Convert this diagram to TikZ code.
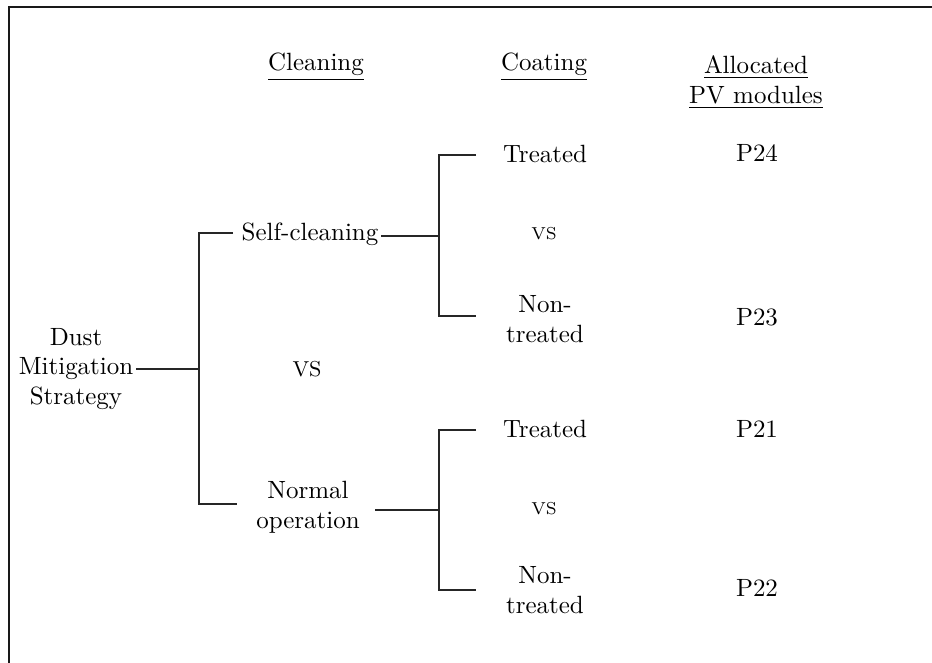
\documentclass[tikz,border=0pt]{standalone}
\usepackage{tikz}

\begin{document}
\begin{tikzpicture}[x=0.4167pt, y=-0.4167pt,
                    every node/.style={inner sep=1pt, font=\fontsize{10.4}{12.4}\selectfont},
                    versus/.style={font=\fontsize{9}{11}\selectfont},
                    subversus/.style={font=\fontsize{7.2}{9}\selectfont},
                    branch/.style={line width=0.8pt, black!85},
                    frame/.style={line width=1.2pt, black!90}]
                \useasboundingbox (0,0) rectangle (932,662);
                \clip (0,0) rectangle (932,662);
                \draw[frame] (9,7) rectangle (980,720);

                \node (hclean) at (316,67) {\underline{Cleaning}};
                \node (hcoat) at (544,67) {\underline{Coating}};
                \node[align=center] (hpv) at (756,82) {\underline{Allocated}\\\underline{PV modules}};

                \node[align=center] (dms) at (76,369) {Dust\\Mitigation\\Strategy};
                \node (sc) at (310,234) {Self-cleaning};
                \node[versus] (vsa) at (307,369) {VS};
                \node[align=center] (no) at (308,507) {Normal\\operation};

                \node (t1) at (545,154) {Treated};
                \node[subversus] (vs1) at (544,234) {VS};
                \node[align=center] (n1) at (545,319) {Non-\\treated};
                \node (t2) at (545,429) {Treated};
                \node[subversus] (vs2) at (544,509) {VS};
                \node[align=center] (n2) at (545,590) {Non-\\treated};

                \node (p24) at (757,153) {P24};
                \node (p23) at (757,317) {P23};
                \node (p21) at (757,429) {P21};
                \node (p22) at (757,588) {P22};

                \coordinate (j0) at (199,369);
                \coordinate (scin) at (233,233);
                \coordinate (noin) at (237,504);
                \coordinate (j1) at (439,236);
                \coordinate (t1in) at (476,155);
                \coordinate (n1in) at (476,316);
                \coordinate (noout) at (375,510);
                \coordinate (j2) at (439,510);
                \coordinate (t2in) at (476,430);
                \coordinate (n2in) at (476,590);

                \draw[branch] (dms.east |- j0) -- (j0);
                \draw[branch] (scin) -| (j0) |- (noin);
                \draw[branch] (sc.east |- j1) -- (j1);
                \draw[branch] (t1in) -| (j1) |- (n1in);
                \draw[branch] (noout) -- (j2);
                \draw[branch] (t2in) -| (j2) |- (n2in);
            \end{tikzpicture}
\end{document}
